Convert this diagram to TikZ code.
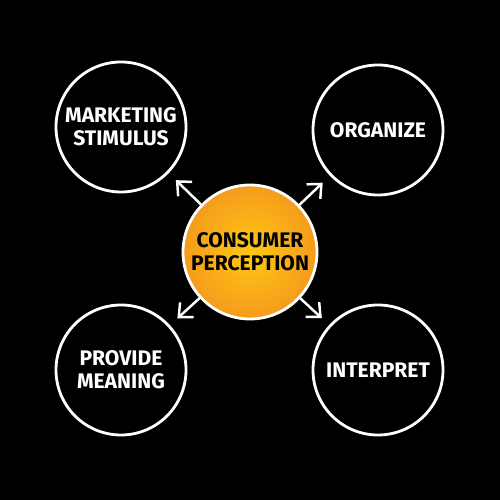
\documentclass[tikz,border=0pt]{standalone}
\usepackage{fontspec}
\setmainfont{Fira Sans}
\usetikzlibrary{arrows.meta}
\definecolor{orangeIn}{HTML}{FFC814}
\definecolor{orangeOut}{HTML}{F59B1C}
\begin{document}
\begin{tikzpicture}[font=\bfseries\fontsize{12}{13}\selectfont]
      \fill[black] (0,0) rectangle (10,10);
      \node[circle, draw=white, line width=1.6pt, inner sep=0pt, minimum size=2.68cm, inner color=orangeIn, outer color=orangeOut, text=black, align=center] (0) at (5,4.96) {CONSUMER\\PERCEPTION};
      \node[circle, draw=white, line width=1.6pt, inner sep=0pt, minimum size=2.6cm, text=white, align=center] (1) at (2.42,7.46) {MARKETING\\STIMULUS};
      \node[circle, draw=white, line width=1.6pt, inner sep=0pt, minimum size=2.6cm, text=white, align=center] (2) at (7.56,7.4) {ORGANIZE};
      \node[circle, draw=white, line width=1.6pt, inner sep=0pt, minimum size=2.6cm, text=white, align=center] (3) at (2.42,2.6) {PROVIDE\\MEANING};
      \node[circle, draw=white, line width=1.6pt, inner sep=0pt, minimum size=2.6cm, text=white, align=center] (4) at (7.56,2.6) {INTERPRET};
      
      \foreach \dest in {1,2,3,4}
        \path (0) edge[white, -{Straight Barb[length=2.2mm,width=4mm]}, line width=1.4pt, shorten >=0.2cm] (\dest);
    \end{tikzpicture}
\end{document}
